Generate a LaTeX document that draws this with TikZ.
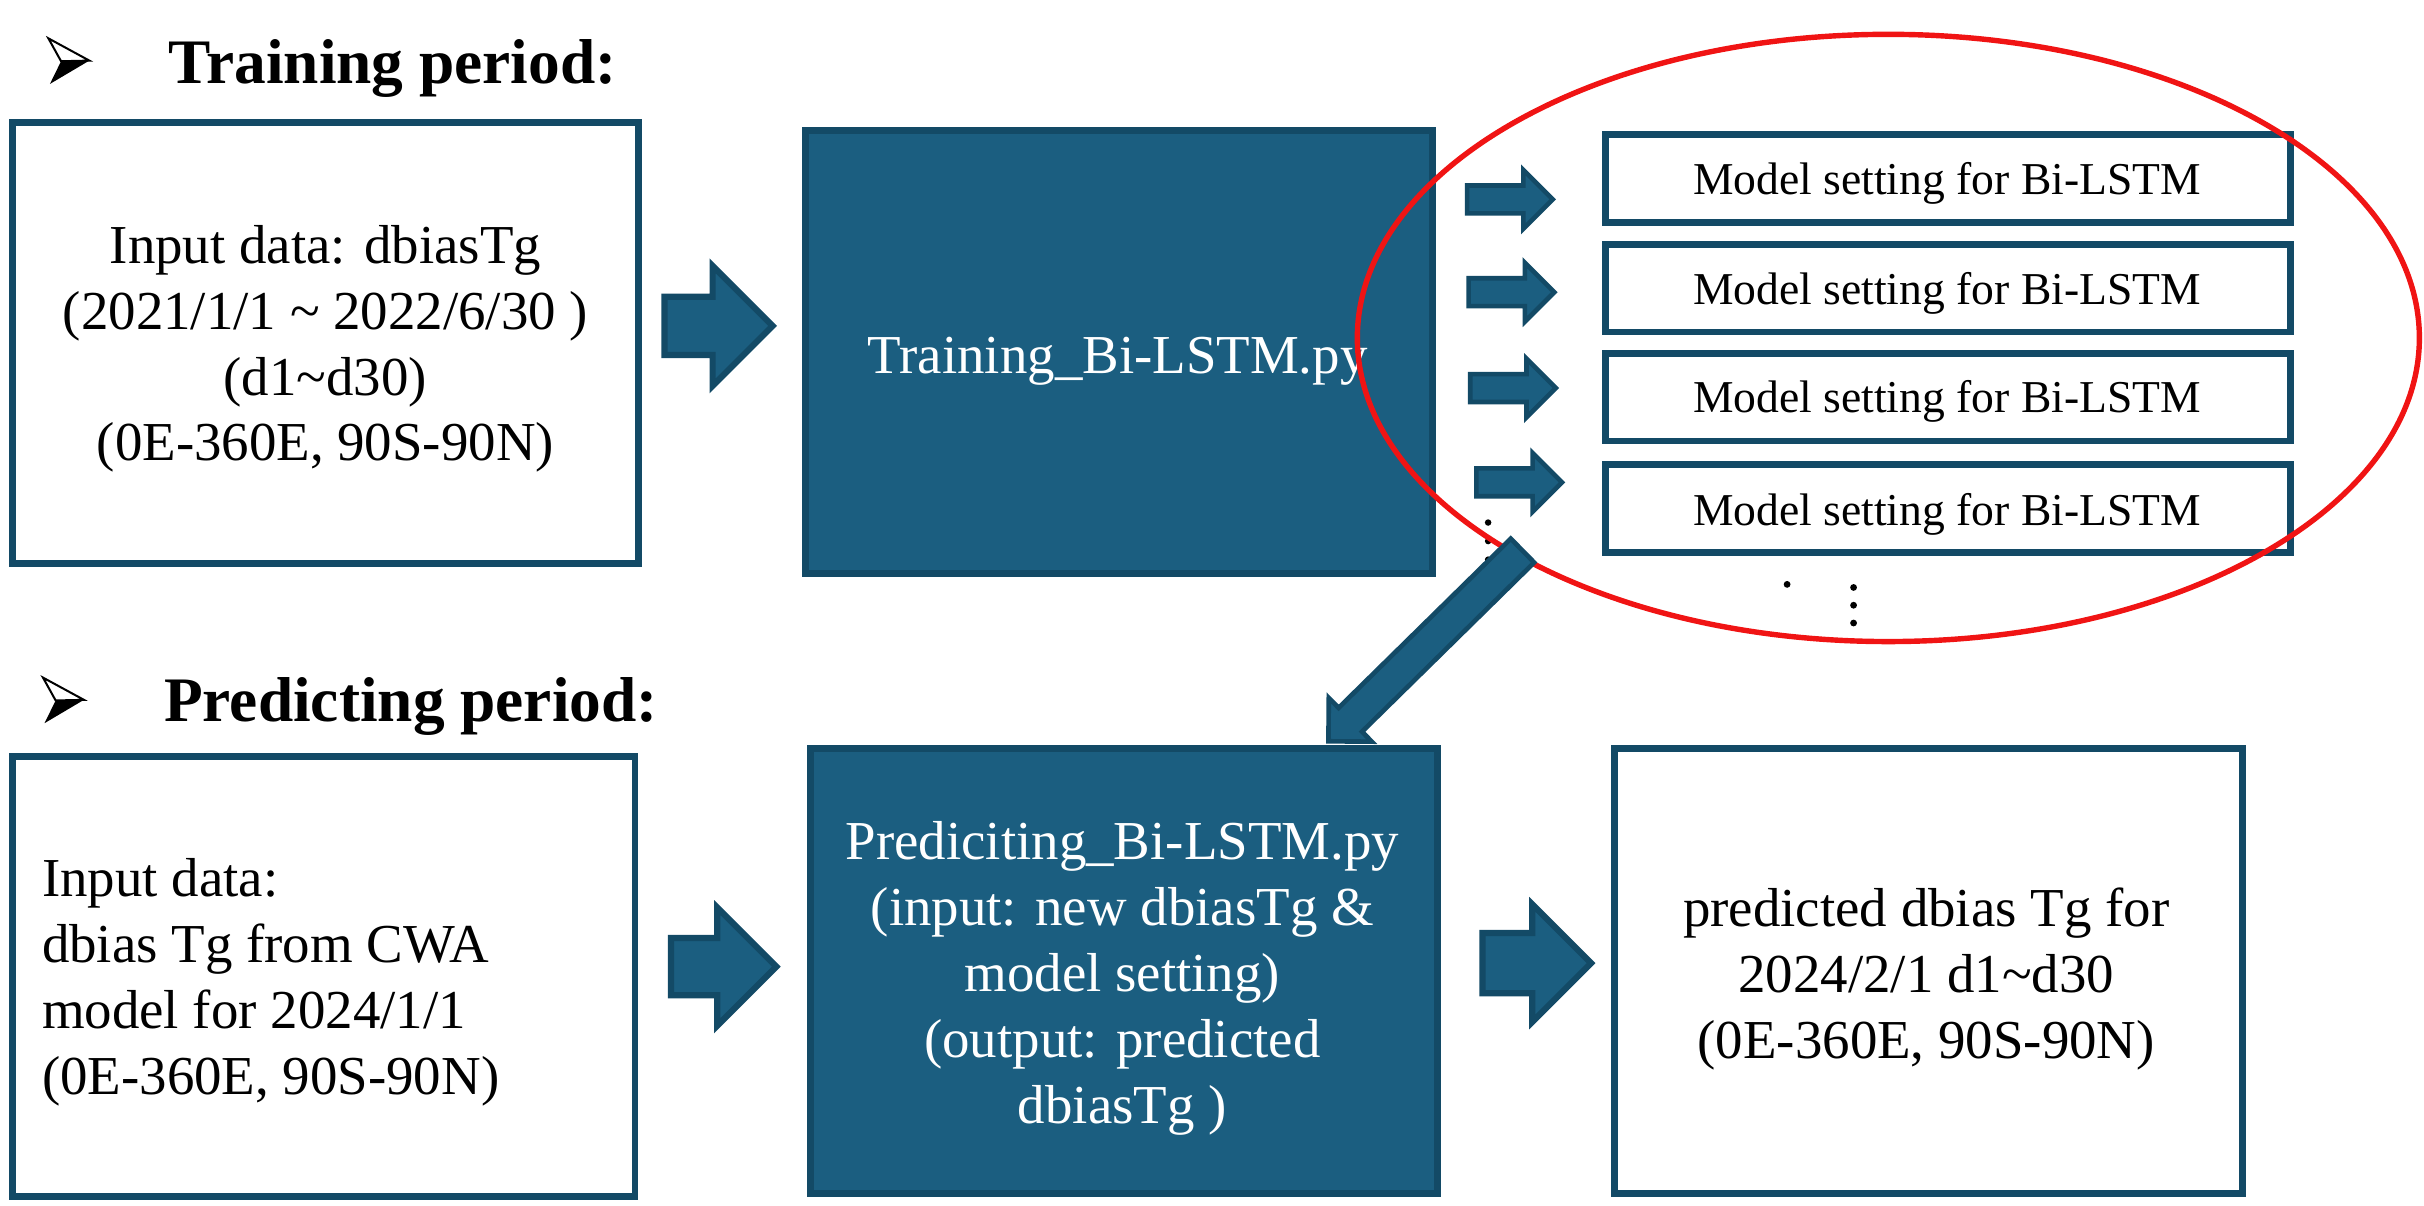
\documentclass[tikz,border=0pt]{standalone}
\usepackage{fontspec}
\setmainfont{Liberation Serif}
\usetikzlibrary{shapes.arrows}
\definecolor{tealfill}{HTML}{1B5E80}
\definecolor{tealline}{HTML}{134A66}
\definecolor{ovalred}{HTML}{F01414}
\begin{document}
\begin{tikzpicture}[x=1pt,y=-1pt,
  wbox/.style={draw=tealline, line width=4.5pt, fill=white, inner sep=0pt},
  dbox/.style={draw=tealline, line width=4.5pt, fill=tealfill, inner sep=0pt},
  maintxt/.style={font=\fontsize{35.5}{42.6}\selectfont, inner sep=0pt, align=center},
  modtxt/.style={font=\fontsize{29.5}{35}\selectfont, inner sep=0pt},
  titletxt/.style={font=\bfseries\fontsize{41}{48}\selectfont, inner sep=0pt},
  blk/.style={single arrow, draw=tealline, fill=tealfill, line width=4pt,
    inner xsep=0pt, minimum width=0pt, single arrow head indent=0pt, anchor=tail},
  smallarr/.style={blk, line width=3pt, minimum height=55.4pt, inner ysep=7.5pt, single arrow head extend=10pt},
  dot/.style={fill=black}
]
\useasboundingbox (0,0) rectangle (1568,779.5);

% title bullets
\foreach \dx/\dy in {0/0, -3.5/413.5}{
  \begin{scope}[shift={(\dx,\dy)}]
    \fill[black] (39.5,39.6) -- (57.8,39.2) -- (32.3,54.3) -- cycle;
    \draw[black, line width=1.3pt, line join=miter] (31.3,24.8) -- (57.8,39.2) -- (39.5,39.6) -- cycle;
  \end{scope}
}
\node[titletxt, anchor=base west] (t1) at (109,54) {Training period:};
\node[titletxt, anchor=base west] (t2) at (106,467) {Predicting period:};

% training row
\node[wbox, minimum width=404.5pt, minimum height=285.5pt] (A) at (210.5,222) {};
\node[maintxt] (Atxt) at (210.5,225.7) {Input data: dbiasTg\\(2021/1/1 \textasciitilde{} 2022/6/30 )\\(d1\textasciitilde d30)\\(0E-360E, 90S-90N)};
\node[dbox, minimum width=405.5pt, minimum height=286.5pt] (B) at (724,227.5) {};
\node[maintxt, anchor=base, text=white] (Btxt) at (723,241.3) {Training\_Bi-LSTM.py};
\node[blk, minimum height=70pt, inner ysep=16.85pt, single arrow head extend=20pt] (arAB) at (427.8,210.8) {};

% model settings
\foreach \i/\cy/\by in {1/115.5/125.7, 2/186.5/196.7, 3/257/267.1, 4/329/340}{
  \node[wbox, minimum width=443.5pt, minimum height=56.5pt] (m\i) at (1260,\cy) {};
  \node[modtxt, anchor=base] (m\i txt) at (1259.5,\by) {Model setting for Bi-LSTM};
}
\node[smallarr] (s1) at (947.5,129) {};
\node[smallarr] (s2) at (948.5,189) {};
\node[smallarr] (s3) at (949.5,251) {};
\node[smallarr] (s4) at (953.5,312) {};

% dots
\fill[dot] (1156,378) circle[radius=2.2pt];
\fill[dot] (1199,380) circle[radius=2.2pt];
\fill[dot] (1199,391.5) circle[radius=2.2pt];
\fill[dot] (1199,403) circle[radius=2.2pt];
\fill[dot] (962.6,338) circle[radius=2.1pt];
\fill[dot] (962.6,350) circle[radius=2.1pt];
\fill[dot] (962.6,362) circle[radius=2.1pt];

% red oval
\draw[ovalred, line width=3.5pt] (1221.5,218.6) ellipse [x radius=343.5pt, y radius=196.4pt];

% diagonal arrow
\node[blk, line width=3pt, rotate=224.5, minimum height=176pt, inner ysep=9.3pt, single arrow head extend=9.05pt] (diag) at (985.9,355.1) {};

% predicting row
\node[wbox, minimum width=402.5pt, minimum height=284.5pt] (C) at (209.5,631.5) {};
\node[maintxt, align=left, anchor=west] (Ctxt) at (27,635.3) {Input data:\\dbias Tg from CWA\\model for 2024/1/1\\(0E-360E, 90S-90N)};
\node[dbox, minimum width=405.5pt, minimum height=287.5pt] (D) at (727,628) {};
\node[maintxt, text=white] (Dtxt) at (726,632.75) {Prediciting\_Bi-LSTM.py\\(input: new dbiasTg \&\\model setting)\\(output: predicted\\dbiasTg )};
\node[wbox, minimum width=406.5pt, minimum height=287.5pt] (E) at (1247.5,628) {};
\node[maintxt] (Etxt) at (1246,633.35) {predicted dbias Tg for\\2024/2/1 d1\textasciitilde d30\\(0E-360E, 90S-90N)};
\node[blk, minimum height=68.2pt, inner ysep=16.5pt, single arrow head extend=19.75pt] (arCD) at (432,625.3) {};
\node[blk, minimum height=70.2pt, inner ysep=17.5pt, single arrow head extend=18.5pt] (arDE) at (957,623) {};
\end{tikzpicture}
\end{document}
